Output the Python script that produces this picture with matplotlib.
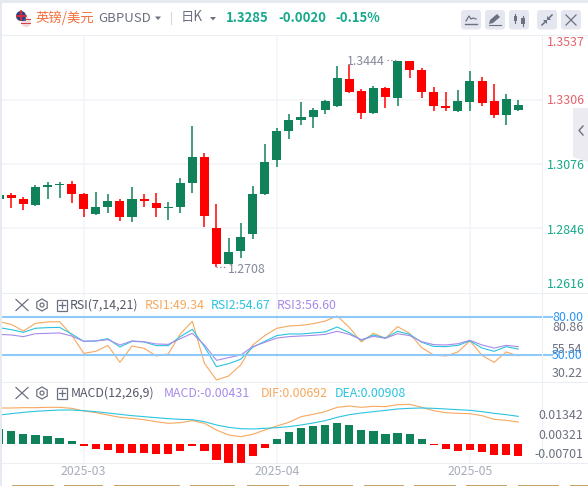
import matplotlib
matplotlib.use('Agg')
import matplotlib.pyplot as plt
from matplotlib.patches import Circle, FancyBboxPatch, Polygon, Rectangle, RegularPolygon
import numpy as np

plt.rcParams['font.family'] = ['Noto Sans CJK SC', 'DejaVu Sans']

# daily candles
opens = [1.2950, 1.2964, 1.2950, 1.2929, 1.2993, 1.3000, 1.3004, 1.2968, 1.2896, 1.2922, 1.2943,
         1.2886, 1.2950, 1.2936, 1.2918, 1.2922, 1.3007, 1.3100, 1.2846, 1.2718, 1.2764, 1.2825,
         1.2968, 1.3089, 1.3194, 1.3232, 1.3243, 1.3268, 1.3282, 1.3379, 1.3336, 1.3257, 1.3346,
         1.3311, 1.3443, 1.3411, 1.3332, 1.3282, 1.3264, 1.3296, 1.3371, 1.3300, 1.3250, 1.3268]
highs = [1.2971, 1.2971, 1.2957, 1.3000, 1.3011, 1.3011, 1.3014, 1.2971, 1.2975, 1.2968, 1.2950,
         1.2993, 1.2968, 1.2971, 1.2939, 1.3025, 1.3211, 1.3114, 1.2932, 1.2811, 1.2864, 1.2996,
         1.3146, 1.3204, 1.3254, 1.3296, 1.3275, 1.3304, 1.3425, 1.3428, 1.3343, 1.3354, 1.3350,
         1.3444, 1.3444, 1.3418, 1.3350, 1.3332, 1.3339, 1.3407, 1.3386, 1.3361, 1.3325, 1.3304]
lows = [1.2943, 1.2918, 1.2911, 1.2925, 1.2950, 1.2954, 1.2936, 1.2886, 1.2893, 1.2900, 1.2871,
        1.2868, 1.2922, 1.2886, 1.2875, 1.2900, 1.2971, 1.2850, 1.2708, 1.2718, 1.2739, 1.2807,
        1.2964, 1.3064, 1.3164, 1.3214, 1.3204, 1.3254, 1.3279, 1.3329, 1.3236, 1.3254, 1.3275,
        1.3282, 1.3382, 1.3311, 1.3264, 1.3264, 1.3261, 1.3264, 1.3282, 1.3239, 1.3214, 1.3264]
closes = [1.2964, 1.2954, 1.2932, 1.2993, 1.3000, 1.3004, 1.2968, 1.2914, 1.2922, 1.2943, 1.2886,
          1.2950, 1.2943, 1.2918, 1.2922, 1.3007, 1.3100, 1.2889, 1.2718, 1.2761, 1.2814, 1.2968,
          1.3082, 1.3193, 1.3232, 1.3243, 1.3268, 1.3300, 1.3382, 1.3332, 1.3257, 1.3346, 1.3314,
          1.3444, 1.3411, 1.3332, 1.3282, 1.3275, 1.3300, 1.3371, 1.3293, 1.3250, 1.3307, 1.3285]

rsi1 = [76.3, 74.2, 68.9, 75.0, 76.1, 76.3, 65.8, 51.3, 52.9, 57.6, 44.2, 57.1, 55.3, 49.2, 50.8,
        66.6, 76.6, 43.4, 30.3, 33.4, 42.1, 57.9, 65.3, 71.1, 72.9, 73.4, 74.7, 76.8, 80.8, 71.8,
        60.3, 67.1, 63.2, 72.4, 67.1, 55.8, 50.0, 49.2, 52.4, 61.1, 49.7, 44.2, 52.4, 49.34]
rsi2 = [71.6, 70.0, 67.9, 71.1, 71.6, 71.8, 66.6, 60.8, 61.1, 62.9, 56.3, 60.8, 60.3, 57.4, 57.4,
        64.5, 70.3, 56.6, 40.8, 43.2, 46.6, 56.1, 60.8, 65.3, 66.6, 66.6, 67.4, 68.2, 72.1, 67.6,
        61.6, 65.8, 63.4, 68.7, 66.3, 60.0, 56.8, 56.6, 57.6, 61.1, 55.5, 52.9, 56.6, 54.67]
rsi3 = [66.3, 65.8, 64.5, 66.8, 67.1, 67.4, 65.0, 60.8, 61.1, 62.1, 57.9, 61.1, 60.5, 58.7, 58.4,
        62.9, 67.1, 57.9, 45.8, 47.9, 50.0, 56.6, 60.0, 63.4, 64.5, 65.0, 65.5, 66.3, 68.7, 66.3,
        62.1, 64.7, 63.2, 66.8, 65.3, 60.5, 58.2, 57.9, 58.9, 61.6, 57.9, 55.5, 57.6, 56.6]

macd_hist = [.00495, .00429, .0033, .00297, .00264, .00198, .00099, -.00066, -.00165, -.00198, -.00297,
             -.00297, -.00297, -.0033, -.0033, -.00231, -.00066, -.00231, -.00528, -.00627, -.00627, -.00396,
             -.00132, .00165, .00396, .00528, .00594, .00627, .00693, .00627, .00462, .00429, .0033,
             .00363, .0033, .00165, -.00022, -.00165, -.00231, -.00198, -.00264, -.00363, -.00363, -.00396]
dif = [.01188, .01188, .01199, .01199, .0121, .0121, .01177, .01089, .01034, .00957, .0088,
       .00847, .00803, .00737, .00682, .00704, .0077, .00682, .00462, .00297, .00242, .00319,
       .00462, .00594, .00715, .00902, .00979, .01067, .0121, .01254, .0121, .01243, .01232,
       .01298, .01309, .0121, .011, .01034, .01012, .01001, .00935, .00814, .00781, .00726]
dea = [.00957, .01001, .01045, .01078, .011, .01122, .01122, .011, .01067, .01023, .00979,
       .00935, .00902, .00869, .00836, .00814, .00803, .00737, .00627, .0055, .00506, .00495,
       .00517, .00539, .00572, .00627, .00693, .0077, .0088, .00968, .01023, .01067, .01111,
       .01155, .01177, .01188, .01177, .01155, .01133, .01111, .01067, .01012, .00968, .00913]

date_pos = [7, 23, 39]
date_labels = ['2025-03', '2025-04', '2025-05']
price_grid = [1.3537, 1.3306, 1.3076, 1.2846]
price_labels = ['1.3537', '1.3306', '1.3076', '1.2846', '1.2616']
rsi_labels = ['80.86', '55.54', '30.22']
macd_labels = ['0.01342', '0.00321', '-0.00701']

GREEN = '#10825a'
RED = '#ff0000'
ORANGE = '#f7a85e'
CYAN = '#2bc4e0'
PURPLE = '#a78bea'
GRID = '#f4f5f8'
LINE = '#eceef3'
GREY = '#6d7080'
TXT_GREEN = '#17a98c'
TXT_RED = '#e4626c'
FS = 8.9

W, H = 588, 486
fig = plt.figure(figsize=(W / 100, H / 100), dpi=100, facecolor='white')


def pane(top, bottom, left=2, right=542):
    ax = fig.add_axes([left / W, 1 - bottom / H, (right - left) / W, (bottom - top) / H])
    for s in ax.spines.values():
        s.set_visible(False)
    ax.set_xlim((left + 0.77) / 12.07, (right + 0.77) / 12.07)
    ax.set_xticks(date_pos, labels=[])
    ax.tick_params(length=0)
    ax.grid(axis='x', color=GRID, lw=1.2)
    ax.set_axisbelow(True)
    return ax


x = np.arange(len(closes))

# price pane
ax = pane(35, 293)
ax.set_ylim(1.3306 - (293 - 99.3) * 0.000357, 1.3306 + (99.3 - 35) * 0.000357)
ax.set_yticks(price_grid, labels=[])
ax.grid(axis='y', color=GRID, lw=1.2)
for i in x:
    c = GREEN if closes[i] >= opens[i] else RED
    ax.vlines(i, lows[i], highs[i], color=c, lw=1.1)
    ax.bar(i, abs(closes[i] - opens[i]), bottom=min(opens[i], closes[i]), width=0.75, color=c)

# RSI pane
ax2 = pane(293, 382)
ax2.set_ylim(50 + (355 - 382) / 1.267, 50 + (355 - 293) / 1.267)
ax2.set_yticks([])
ax2.plot(x, rsi1, color=ORANGE, lw=0.8)
ax2.plot(x, rsi2, color=CYAN, lw=0.8)
ax2.plot(x, rsi3, color=PURPLE, lw=0.8)
for lev in [80, 50]:
    ax2.plot([0, 1.0185], [lev, lev], transform=ax2.get_yaxis_transform(), color='#8ec9f9', lw=1.5, clip_on=False)

# MACD pane
ax3 = pane(382, 463)
ax3.set_ylim((444 - 463) * 0.00033, (444 - 382) * 0.00033)
ax3.set_yticks([])
ax3.set_xticks(date_pos, labels=date_labels, color='#a9adbb', fontsize=FS)
ax3.tick_params(axis='x', pad=1.5)
hist_col = [GREEN if v >= 0 else RED for v in macd_hist]
ax3.bar(x, macd_hist, width=0.68, color=hist_col)
ax3.plot(x, dif, color=ORANGE, lw=0.8)
ax3.plot(x, dea, color=CYAN, lw=0.8)

# overlay in pixel coordinates for the page furniture
ov = fig.add_axes([0, 0, 1, 1], facecolor='none')
ov.set_xlim(0, W)
ov.set_ylim(H, 0)
ov.axis('off')

ov.add_patch(Rectangle((0, 0), W, 3, color='#e6eaf0', lw=0))
ov.add_patch(Rectangle((0, 0), 2, H, color='#e6eaf0', lw=0))
for yy in [35, 293, 382, 463]:
    ov.plot([2, W], [yy, yy], color=LINE, lw=0.8)
ov.plot([542, 542], [35, 463], color=LINE, lw=0.8)

# bottom strips of the page below the chart
for a, b in [(12, 54), (64, 103), (114, 180), (190, 235), (247, 289), (299, 353), (364, 404),
             (414, 456), (466, 507), (518, 559), (570, 588)]:
    ov.add_patch(Rectangle((a, 484.5), b - a, 2, color='#c8a46c', lw=0))

# flags
ov.add_patch(Circle((26, 22), 5, color='#f2d9d9', lw=0))
ov.add_patch(Rectangle((21, 19), 10, 1.3, color='#d8404a', lw=0))
ov.add_patch(Rectangle((21, 23), 10, 1.3, color='#d8404a', lw=0))
ov.add_patch(Rectangle((22, 18), 4, 3.5, color='#5a6aa5', lw=0))
ov.add_patch(Circle((21, 16), 5, color='#2f3f80', lw=0))
ov.plot([16.5, 25.5], [16, 16], color='#d8303a', lw=1.3)
ov.plot([21, 21], [11.5, 20.5], color='#d8303a', lw=1.3)

# header text
ov.text(36, 17.5, '英镑/美元', color='#f4703c', fontsize=9.6, va='center')
ov.text(98, 18.5, 'GBPUSD', color=GREY, fontsize=9.5, va='center')
ov.add_patch(Polygon([[155, 16.5], [161, 16.5], [158, 20]], color=GREY, lw=0))
ov.plot([171, 171], [12, 24], color='#d5d8e0', lw=0.8)
ov.text(181, 17.5, '日K', color=GREY, fontsize=9.6, va='center')
ov.add_patch(Polygon([[210, 17], [216, 17], [213, 20.5]], color=GREY, lw=0))
ov.text(226, 17.5, '1.3285', color=TXT_GREEN, fontsize=9.4, fontweight='bold', va='center')
ov.text(278, 17.5, '-0.0020', color=TXT_GREEN, fontsize=9.4, fontweight='bold', va='center')
ov.text(335, 17.5, '-0.15%', color=TXT_GREEN, fontsize=9.4, fontweight='bold', va='center')

# toolbar buttons
for bx in [461, 485, 509, 537, 561]:
    ov.add_patch(FancyBboxPatch((bx + 2, 12), 16, 15.5, boxstyle='round,pad=2,rounding_size=3',
                                fc='#e4e7ef', ec='none'))
ov.plot([466, 469, 471, 473, 476], [21, 16, 19, 18, 19], color=GREY, lw=0.9)
ov.plot([465, 477], [24, 24], color=GREY, lw=1)
ov.add_patch(Polygon([[489, 24], [490, 20], [497, 14], [500, 17], [493, 23]], color=GREY, lw=0))
ov.plot([489, 501], [25, 25], color=GREY, lw=0.8)
ov.plot([515, 515], [14, 23], color=GREY, lw=0.8)
ov.plot([523, 523], [16, 26], color=GREY, lw=0.8)
ov.add_patch(Rectangle((513.5, 16), 3.5, 5, color=GREY, lw=0))
ov.add_patch(Rectangle((521, 18), 4, 6, color=GREY, lw=0))
ov.plot([542, 546], [25, 21], color=GREY, lw=1.1)
ov.plot([548, 552], [19, 15], color=GREY, lw=1.1)
ov.add_patch(Polygon([[543, 20], [547, 20], [547, 24]], color=GREY, lw=0))
ov.add_patch(Polygon([[547, 16], [547, 20], [551, 20]], color=GREY, lw=0))
ov.plot([566, 576], [15, 25], color=GREY, lw=0.9)
ov.plot([566, 576], [25, 15], color=GREY, lw=0.9)

# collapse tab on the right
ov.add_patch(Polygon([[573, 108], [W, 108], [W, 162], [573, 157]], color='#ebebf1', lw=0))
ov.plot([583, 579, 583], [126, 130.5, 135], color=GREY, lw=1)

# price labels
for s, yy, col in zip(price_labels, [42.5, 100.5, 165, 230, 284.3],
                      [TXT_RED, TXT_RED, TXT_GREEN, TXT_GREEN, TXT_GREEN]):
    ov.text(546.5, yy, s, color=col, fontsize=FS, va='center')

# high / low marks
ov.text(347, 61.5, '1.3444', color='#85899a', fontsize=FS, va='center')
ov.plot([387, 397], [60, 60], color='#85899a', lw=0.9, ls=(0, (1, 2)))
ov.text(228, 269, '1.2708', color='#85899a', fontsize=FS, va='center')
ov.plot([216, 227], [266.5, 266.5], color='#85899a', lw=0.9, ls=(0, (1, 2)))


def pane_icons(yy):
    ov.plot([16, 28], [yy - 5.5, yy + 5.5], color=GREY, lw=0.9)
    ov.plot([16, 28], [yy + 5.5, yy - 5.5], color=GREY, lw=0.9)
    ov.add_patch(RegularPolygon((42, yy), 6, radius=6, fc='none', ec=GREY, lw=0.9))
    ov.add_patch(Circle((42, yy), 2, fc='none', ec=GREY, lw=0.9))
    ov.add_patch(Rectangle((56.5, yy - 5), 10.5, 10.5, fc='none', ec=GREY, lw=0.9))
    ov.plot([58.5, 65], [yy + 0.2, yy + 0.2], color=GREY, lw=0.9)
    ov.plot([61.8, 61.8], [yy - 3, yy + 3.4], color=GREY, lw=0.9)


# RSI legend and labels
pane_icons(305)
ov.text(70, 305.5, 'RSI(7,14,21)', color='#555866', fontsize=FS, va='center')
ov.text(145, 305.5, 'RSI1:49.34', color=ORANGE, fontsize=FS, va='center')
ov.text(211, 305.5, 'RSI2:54.67', color=CYAN, fontsize=FS, va='center')
ov.text(277, 305.5, 'RSI3:56.60', color=PURPLE, fontsize=FS, va='center')
ov.text(552, 349, rsi_labels[1], color=GREY, fontsize=FS, va='center')
ov.text(552, 327.5, rsi_labels[0], color=GREY, fontsize=FS, va='center')
ov.text(552, 373.5, rsi_labels[2], color=GREY, fontsize=FS, va='center')
ov.text(552, 317.5, '80.00', color='#2b95f5', fontsize=FS, va='center')
ov.text(552, 355.5, '50.00', color='#2b95f5', fontsize=FS, va='center')

# MACD legend and labels
pane_icons(393)
ov.text(71, 393.5, 'MACD(12,26,9)', color='#555866', fontsize=FS, va='center')
ov.text(164, 393.5, 'MACD:-0.00431', color=PURPLE, fontsize=FS, va='center')
ov.text(261, 393.5, 'DIF:0.00692', color=ORANGE, fontsize=FS, va='center')
ov.text(335, 393.5, 'DEA:0.00908', color=CYAN, fontsize=FS, va='center')
for s, yy in zip(macd_labels, [415.7, 435.7, 454.3]):
    ov.text(583, yy, s, color=GREY, fontsize=FS, va='center', ha='right')

fig.savefig('out.png', dpi=100)
